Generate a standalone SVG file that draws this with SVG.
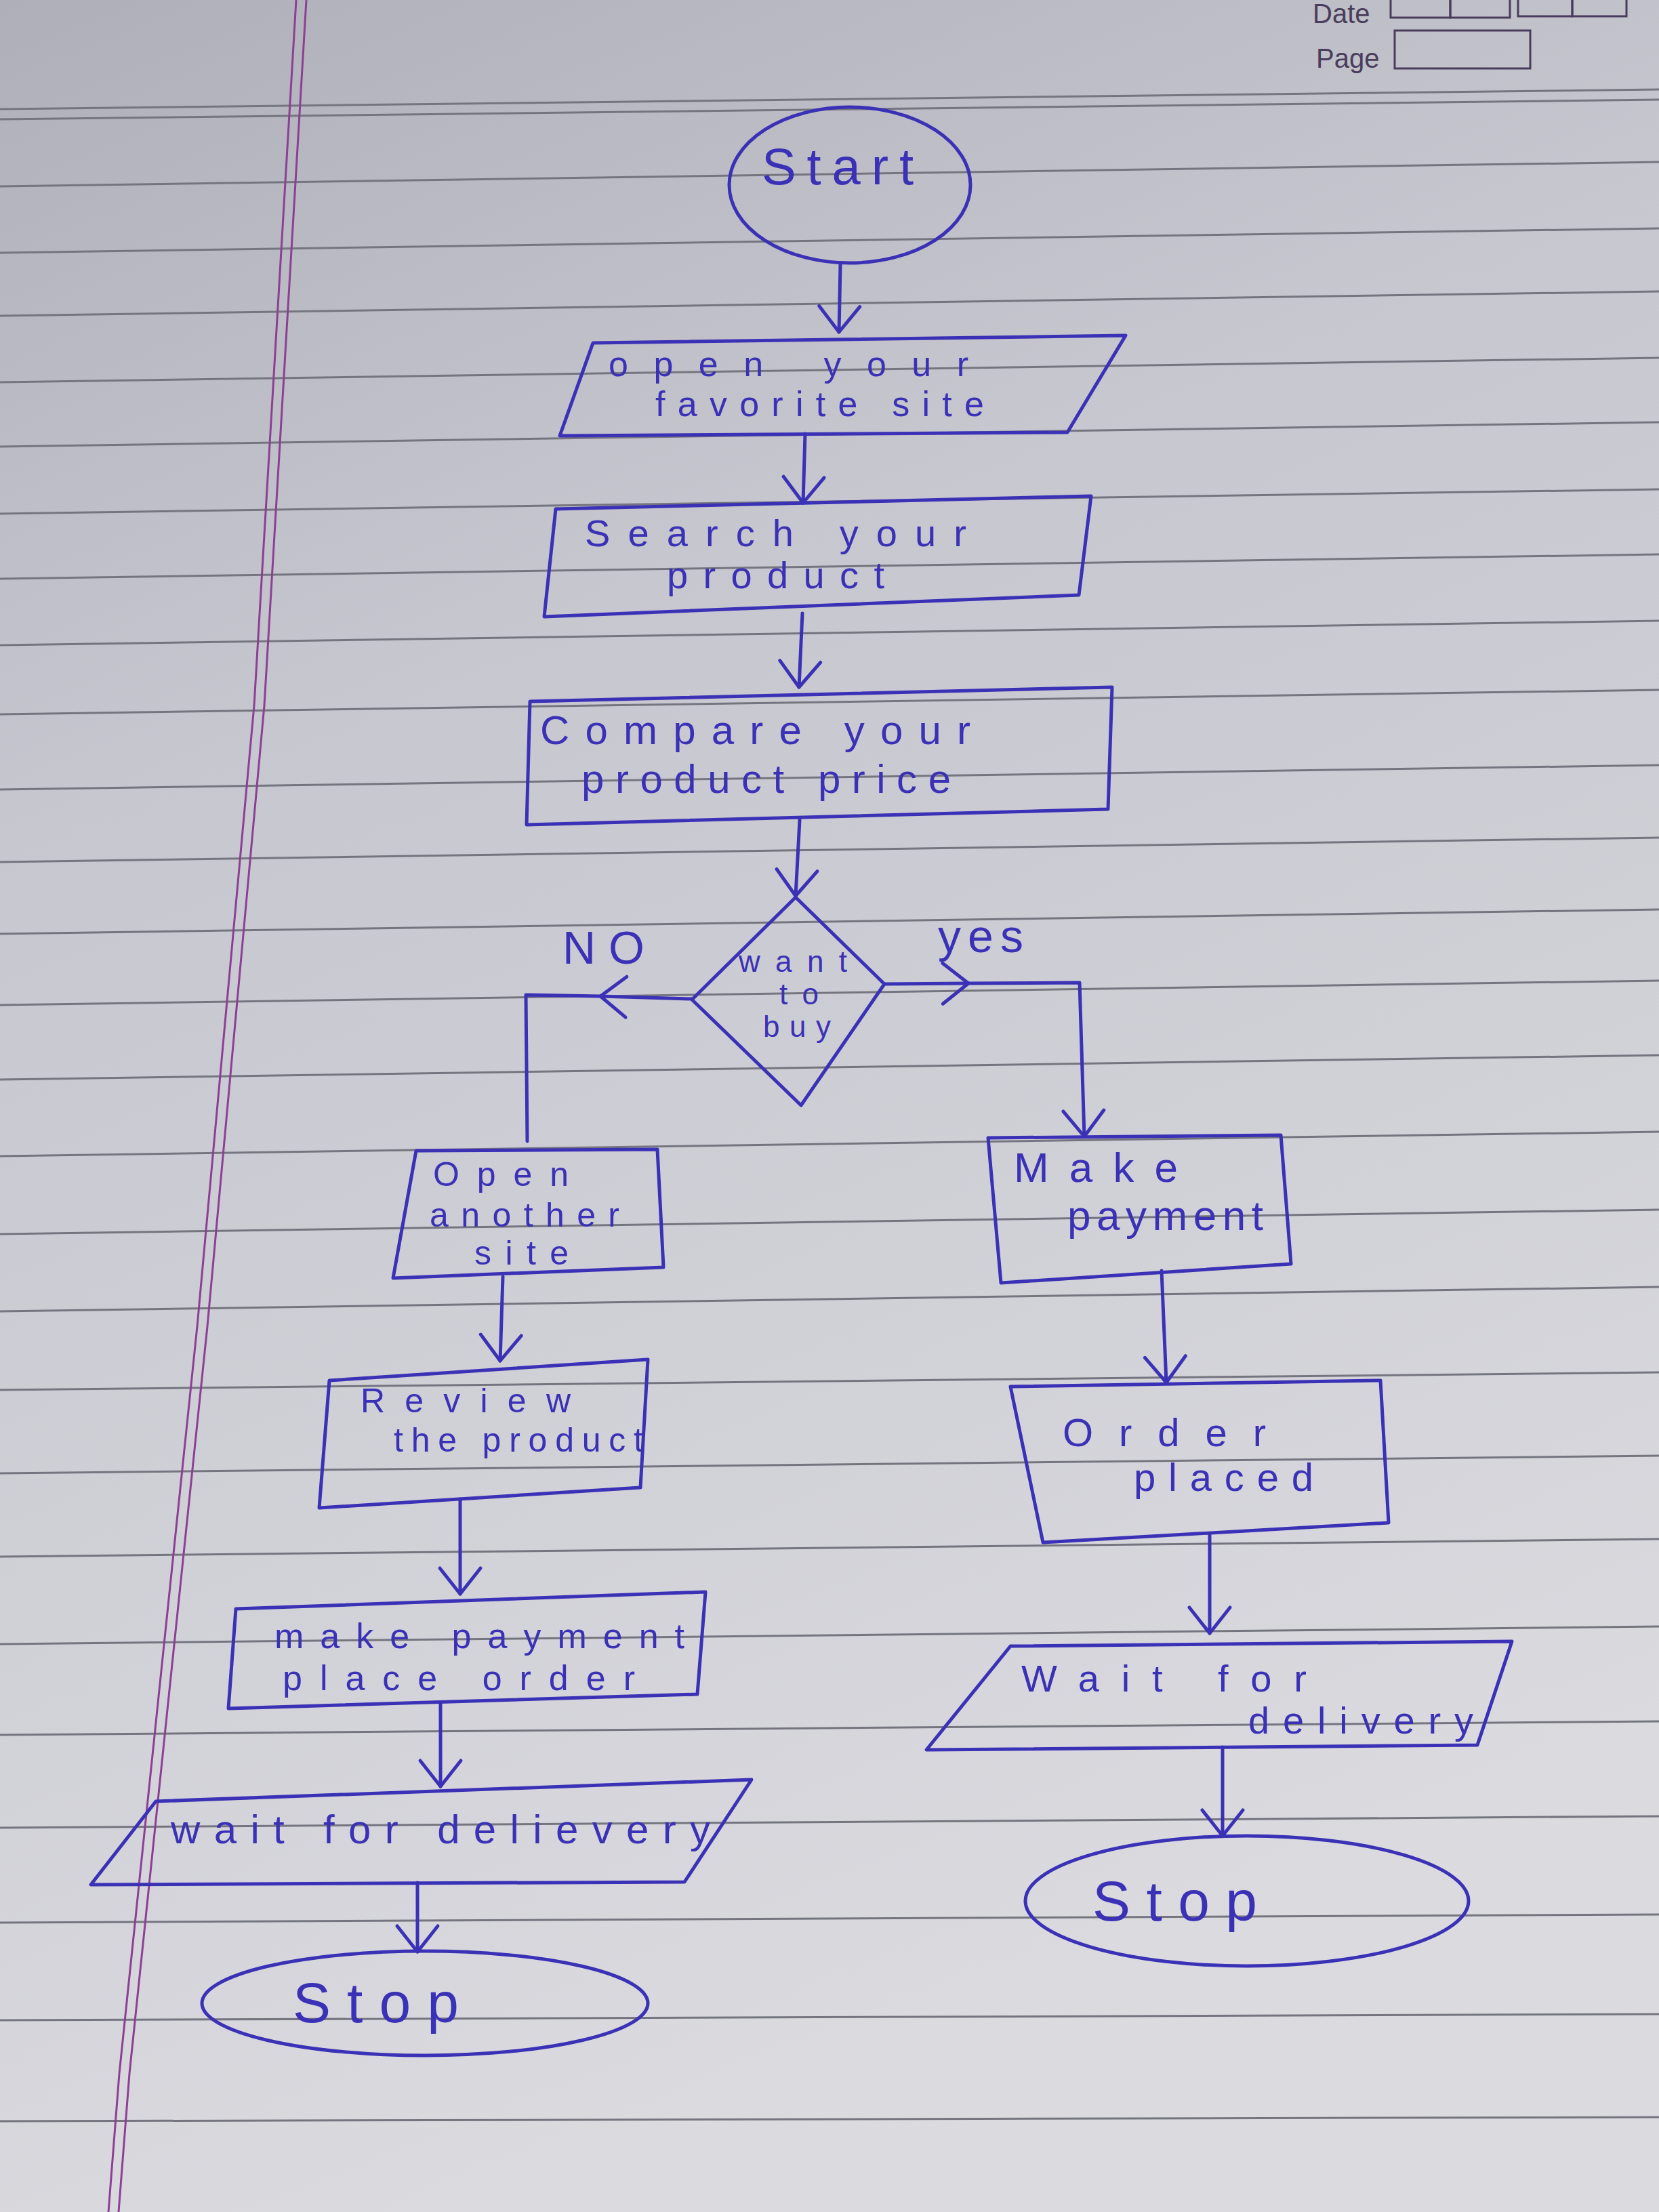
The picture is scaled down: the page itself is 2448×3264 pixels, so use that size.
<svg xmlns="http://www.w3.org/2000/svg" width="2448" height="3264" viewBox="0 0 2448 3264">
<style>
.ink{fill:none;stroke:#3b31b6;stroke-width:5;stroke-linejoin:round;stroke-linecap:round}
.con{fill:none;stroke:#3b31b6;stroke-width:5;stroke-linecap:round;stroke-linejoin:round}
.t{font-family:"Liberation Sans",Arial,sans-serif;font-size:56px;fill:#3b31b6}
.rule{stroke:#74757f;stroke-width:3;fill:none}
.margin{stroke:#8e3f95;stroke-width:3;fill:none}
.hdr{font-family:"Liberation Sans",Arial,sans-serif;font-size:40px;fill:#4a3d5c}
.hbox{fill:none;stroke:#4a3d5c;stroke-width:3}
</style>
<defs>
<linearGradient id="paper" x1="0" y1="0" x2="0.3" y2="1">
<stop offset="0" stop-color="#aeafb8"/>
<stop offset="0.35" stop-color="#c6c7cf"/>
<stop offset="1" stop-color="#dadadf"/>
</linearGradient>
<marker id="arr" markerUnits="userSpaceOnUse" markerWidth="50" markerHeight="70" viewBox="0 0 50 70" refX="46" refY="35" orient="auto">
<path d="M8,5 L46,35 L8,65" fill="none" stroke="#3b31b6" stroke-width="5" stroke-linecap="round" stroke-linejoin="round"/>
</marker>
</defs>

<g id="paper-bg">
<rect x="0" y="0" width="2448" height="3264" fill="url(#paper)"/>
<g id="rules">
<path class="rule" d="M0,161 L2448,132"/>
<path class="rule" d="M0,176 L2448,147"/>
<path class="rule" d="M0,275 L2448,239"/>
<path class="rule" d="M0,373 L2448,337"/>
<path class="rule" d="M0,466 L2448,430"/>
<path class="rule" d="M0,564 L2448,528"/>
<path class="rule" d="M0,659 L2448,623"/>
<path class="rule" d="M0,758 L2448,722"/>
<path class="rule" d="M0,854 L2448,818"/>
<path class="rule" d="M0,952 L2448,916"/>
<path class="rule" d="M0,1054 L2448,1018"/>
<path class="rule" d="M0,1165 L2448,1129"/>
<path class="rule" d="M0,1272 L2448,1236"/>
<path class="rule" d="M0,1378 L2448,1342"/>
<path class="rule" d="M0,1483 L2448,1447"/>
<path class="rule" d="M0,1593 L2448,1557"/>
<path class="rule" d="M0,1706 L2448,1670"/>
<path class="rule" d="M0,1821 L2448,1785"/>
<path class="rule" d="M0,1935 L2448,1899"/>
<path class="rule" d="M0,2051 L2448,2025"/>
<path class="rule" d="M0,2174 L2448,2148"/>
<path class="rule" d="M0,2297 L2448,2271"/>
<path class="rule" d="M0,2426 L2448,2400"/>
<path class="rule" d="M0,2560 L2448,2540"/>
<path class="rule" d="M0,2697 L2448,2680"/>
<path class="rule" d="M0,2837 L2448,2825"/>
<path class="rule" d="M0,2981 L2448,2972"/>
<path class="rule" d="M0,3130 L2448,3124"/>
</g>
<polyline class="margin" points="437,0 375,1041 291,1957 176,3060 160,3264"/>
<polyline class="margin" points="452,0 390,1041 306,1957 191,3060 175,3264"/>
<text class="hdr" x="1937" y="34">Date</text>
<rect class="hbox" x="2052" y="-6" width="88" height="32"/>
<rect class="hbox" x="2140" y="-6" width="88" height="32"/>
<rect class="hbox" x="2240" y="-6" width="80" height="30"/>
<rect class="hbox" x="2320" y="-6" width="80" height="30"/>
<text class="hdr" x="1942" y="100">Page</text>
<rect class="hbox" x="2058" y="45" width="200" height="56"/>
</g>

<g id="connectors">
<path class="con" d="M1240,390 L1238,490" marker-end="url(#arr)"/>
<path class="con" d="M1188,640 L1185,742" marker-end="url(#arr)"/>
<path class="con" d="M1184,905 L1179,1014" marker-end="url(#arr)"/>
<path class="con" d="M1180,1210 L1174,1322" marker-end="url(#arr)"/>
<path class="con" d="M1021,1474 L886,1470" marker-end="url(#arr)"/>
<path class="con" d="M886,1470 L776,1468 L778,1684"/>
<path class="con" d="M1305,1452 L1429,1451" marker-end="url(#arr)"/>
<path class="con" d="M1429,1451 L1593,1450 L1600,1677" marker-end="url(#arr)"/>
<path class="con" d="M742,1884 L738,2008" marker-end="url(#arr)"/>
<path class="con" d="M1714,1875 L1721,2040" marker-end="url(#arr)"/>
<path class="con" d="M679,2212 L679,2352" marker-end="url(#arr)"/>
<path class="con" d="M1785,2264 L1785,2410" marker-end="url(#arr)"/>
<path class="con" d="M650,2512 L650,2636" marker-end="url(#arr)"/>
<path class="con" d="M1804,2578 L1804,2709" marker-end="url(#arr)"/>
<path class="con" d="M616,2778 L616,2880" marker-end="url(#arr)"/>
</g>

<g id="start">
<ellipse class="ink" cx="1254" cy="273" rx="178" ry="115"/>
<text class="t" style="font-size:76px" x="1124" y="272" textLength="224" lengthAdjust="spacing">Start</text>
</g>

<g id="open-site">
<polygon class="ink" points="875,506 1661,495 1575,638 826,643"/>
<text class="t" style="font-size:52px" x="898" y="555" textLength="531" lengthAdjust="spacing">open your</text>
<text class="t" style="font-size:52px" x="967" y="614" textLength="485" lengthAdjust="spacing">favorite site</text>
</g>

<g id="search">
<polygon class="ink" points="820,751 1610,732 1592,878 803,910"/>
<text class="t" x="863" y="806" textLength="563" lengthAdjust="spacing">Search your</text>
<text class="t" x="984" y="868" textLength="321" lengthAdjust="spacing">product</text>
</g>

<g id="compare">
<polygon class="ink" points="782,1035 1641,1014 1635,1194 777,1217"/>
<text class="t" style="font-size:60px" x="797" y="1098" textLength="635" lengthAdjust="spacing">Compare your</text>
<text class="t" style="font-size:60px" x="858" y="1170" textLength="545" lengthAdjust="spacing">product price</text>
</g>

<g id="decision">
<polygon class="ink" points="1174,1324 1305,1452 1182,1631 1021,1475"/>
<text class="t" style="font-size:44px" x="1090" y="1434" textLength="160" lengthAdjust="spacing">want</text>
<text class="t" style="font-size:44px" x="1150" y="1482" textLength="58" lengthAdjust="spacing">to</text>
<text class="t" style="font-size:44px" x="1126" y="1530" textLength="100" lengthAdjust="spacing">buy</text>
</g>

<g id="labels">
<text class="t" style="font-size:68px" x="830" y="1422" textLength="121" lengthAdjust="spacing">NO</text>
<text class="t" style="font-size:68px" x="1384" y="1405" textLength="126" lengthAdjust="spacing">yes</text>
</g>

<g id="open-another">
<polygon class="ink" points="614,1698 970,1696 979,1870 580,1886"/>
<text class="t" style="font-size:50px" x="639" y="1750" textLength="200" lengthAdjust="spacing">Open</text>
<text class="t" style="font-size:50px" x="634" y="1810" textLength="280" lengthAdjust="spacing">another</text>
<text class="t" style="font-size:50px" x="700" y="1866" textLength="139" lengthAdjust="spacing">site</text>
</g>

<g id="make-payment">
<polygon class="ink" points="1458,1679 1890,1675 1905,1865 1477,1893"/>
<text class="t" style="font-size:62px" x="1496" y="1744" textLength="242" lengthAdjust="spacing">Make</text>
<text class="t" style="font-size:62px" x="1575" y="1815" textLength="289" lengthAdjust="spacing">payment</text>
</g>

<g id="review">
<polygon class="ink" points="486,2037 956,2006 945,2195 471,2225"/>
<text class="t" style="font-size:50px" x="532" y="2084" textLength="310" lengthAdjust="spacing">Review</text>
<text class="t" style="font-size:50px" x="581" y="2142" textLength="368" lengthAdjust="spacing">the product</text>
</g>

<g id="pay-place-order">
<polygon class="ink" points="348,2374 1041,2349 1029,2500 337,2521"/>
<text class="t" style="font-size:52px" x="405" y="2432" textLength="605" lengthAdjust="spacing">make payment</text>
<text class="t" style="font-size:52px" x="417" y="2494" textLength="520" lengthAdjust="spacing">place order</text>
</g>

<g id="wait-left">
<polygon class="ink" points="230,2658 1109,2626 1010,2777 134,2781"/>
<text class="t" style="font-size:60px" x="252" y="2720" textLength="796" lengthAdjust="spacing">wait for delievery</text>
</g>

<g id="stop-left">
<ellipse class="ink" cx="627" cy="2956" rx="329" ry="77"/>
<text class="t" style="font-size:84px" x="432" y="2984" textLength="245" lengthAdjust="spacing">Stop</text>
</g>

<g id="order-placed">
<polygon class="ink" points="1491,2046 2037,2037 2049,2247 1539,2276"/>
<text class="t" style="font-size:58px" x="1568" y="2134" textLength="300" lengthAdjust="spacing">Order</text>
<text class="t" style="font-size:58px" x="1673" y="2200" textLength="265" lengthAdjust="spacing">placed</text>
</g>

<g id="wait-right">
<polygon class="ink" points="1491,2429 2231,2422 2180,2575 1367,2582"/>
<text class="t" x="1507" y="2496" textLength="421" lengthAdjust="spacing">Wait for</text>
<text class="t" x="1842" y="2558" textLength="332" lengthAdjust="spacing">delivery</text>
</g>

<g id="stop-right">
<ellipse class="ink" cx="1840" cy="2805" rx="327" ry="96"/>
<text class="t" style="font-size:84px" x="1612" y="2834" textLength="243" lengthAdjust="spacing">Stop</text>
</g>
</svg>
